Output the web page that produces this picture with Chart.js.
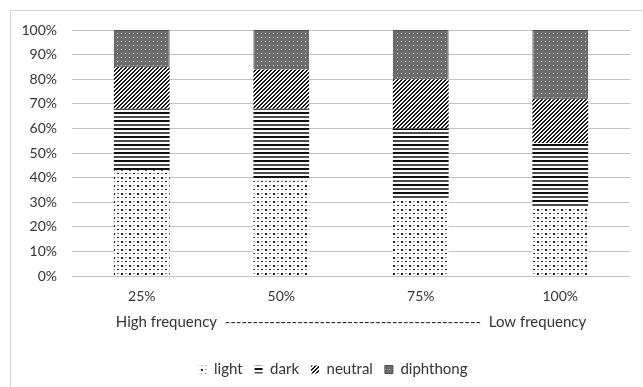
<!DOCTYPE html>
<html>
<head>
<meta charset="utf-8">
<script src="https://cdn.jsdelivr.net/npm/chart.js@4"></script>
<style>
  html,body{margin:0;padding:0;background:#fff;}
  #wrap{position:relative;width:643px;height:387px;overflow:hidden;}
  #frame{position:absolute;left:10px;top:10px;width:640px;height:390px;border:1px solid #d4d4d4;box-sizing:border-box;}
  canvas{position:absolute;left:0;top:0;}
</style>
</head>
<body>
<div id="wrap">
  <div id="frame"></div>
  <canvas id="c" width="643" height="387"></canvas>
</div>
<script>
// ---- data ----
const categories = ['25%', '50%', '75%', '100%'];
const seriesNames = ['light', 'dark', 'neutral', 'diphthong'];
const lightValues = [43, 39, 31, 28];
const darkValues = [25, 29, 29, 26];
const neutralValues = [17, 16, 20, 18];
const diphthongValues = [15, 16, 20, 28];
const yTickValues = [0, 10, 20, 30, 40, 50, 60, 70, 80, 90, 100];
const axisTitle = 'High frequency  ' + '-'.repeat(46) + '  Low frequency';

// ---- patterns ----
function makePattern(w, h, draw) {
  const c = document.createElement('canvas');
  c.width = w; c.height = h;
  const x = c.getContext('2d');
  draw(x);
  return document.createElement('canvas').getContext('2d').createPattern(c, 'repeat');
}
const lightPat = makePattern(8, 8, x => {
  x.fillStyle = '#fff'; x.fillRect(0, 0, 8, 8);
  x.fillStyle = '#222'; x.fillRect(1, 1, 2, 2); x.fillRect(5, 5, 2, 1);
  x.fillStyle = '#888'; x.fillRect(5, 1, 2, 1); x.fillRect(1, 5, 2, 1);
});
const darkPat = makePattern(8, 8, x => {
  x.fillStyle = '#fff'; x.fillRect(0, 0, 8, 8);
  x.fillStyle = '#111'; x.fillRect(0, 0, 8, 2);
  x.fillStyle = '#4a4a4a'; x.fillRect(0, 4, 8, 2);
});
const neutralPat = makePattern(4, 4, x => {
  x.fillStyle = '#fff'; x.fillRect(0, 0, 4, 4);
  x.fillStyle = '#1a1a1a';
  for (let i = 0; i < 4; i++) for (let j = 0; j < 4; j++) {
    if ((i + j) % 4 < 2) x.fillRect(i, j, 1, 1);
  }
});
const diphPat = makePattern(8, 8, x => {
  x.fillStyle = '#6c6c6c'; x.fillRect(0, 0, 8, 8);
  x.fillStyle = '#e4e4e4'; x.fillRect(1, 1, 1, 1); x.fillRect(5, 5, 1, 1);
  x.fillStyle = '#b8b8b8'; x.fillRect(5, 1, 1, 1); x.fillRect(1, 5, 1, 1);
});

const FONT = 'Lato';
const TEXT = '#333';

const legendShift = {
  id: 'legendShift',
  afterLayout(chart) {
    if (chart.legend) { chart.legend.left += 18; chart.legend.right += 18; }
  }
};

new Chart(document.getElementById('c'), {
  type: 'bar',
  data: {
    labels: categories,
    datasets: [
      { label: seriesNames[0], data: lightValues, backgroundColor: lightPat, borderWidth: 0 },
      { label: seriesNames[1], data: darkValues, backgroundColor: darkPat, borderWidth: 0 },
      { label: seriesNames[2], data: neutralValues, backgroundColor: neutralPat, borderWidth: 0 },
      { label: seriesNames[3], data: diphthongValues, backgroundColor: diphPat, borderColor: '#505050', borderWidth: 1 }
    ]
  },
  plugins: [legendShift],
  options: {
    responsive: false,
    animation: false,
    devicePixelRatio: 1,
    datasets: { bar: { barPercentage: 0.4, categoryPercentage: 1.0 } },
    layout: { padding: { top: 30, right: 13, left: 0, bottom: 0 } },
    plugins: {
      tooltip: { enabled: false },
      legend: {
        position: 'bottom',
        labels: { boxWidth: 8, boxHeight: 8, padding: 12, color: TEXT, font: { family: FONT, size: 15 } }
      }
    },
    scales: {
      x: {
        stacked: true,
        grid: { display: false, drawTicks: false },
        border: { display: false },
        ticks: { color: TEXT, padding: 12, font: { family: FONT, size: 14 } },
        title: { display: true, text: axisTitle, color: TEXT, padding: { top: -4, bottom: 19 }, font: { family: FONT, size: 15 } }
      },
      y: {
        stacked: true,
        min: 0, max: 100,
        afterBuildTicks: s => { s.ticks = yTickValues.map(v => ({ value: v })); },
        afterFit: s => { s.width = 72; },
        grid: { color: '#c2c2c2', drawTicks: false, lineWidth: 1 },
        border: { display: false },
        ticks: { color: TEXT, padding: 15, font: { family: FONT, size: 14 }, callback: v => v + '%' }
      }
    }
  }
});
</script>
</body>
</html>
